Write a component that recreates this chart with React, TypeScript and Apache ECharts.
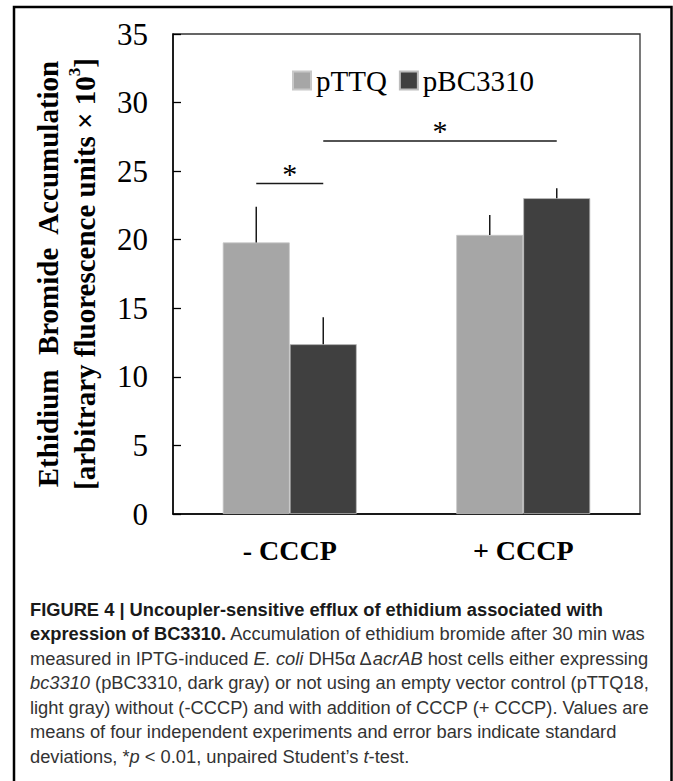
import React, { useEffect, useRef } from 'react';
import * as echarts from 'echarts';

// ---------- data ----------
const categories = ['- CCCP', '+ CCCP'];
const seriesNames = ['pTTQ', 'pBC3310'];
const pTTQMeans = [19.8, 20.35];
const pTTQSD = [2.6, 1.45];
const pBC3310Means = [12.38, 23.03];
const pBC3310SD = [1.97, 0.72];
const yMin = 0;
const yMax = 35;
const yInterval = 5;
// significance brackets: [fromCategory, fromSeries, toCategory, toSeries, yValue]
const sigBrackets = [
  [0, 0, 0, 1, 24.1],
  [0, 1, 1, 1, 27.2],
];
const sigLabel = '*';

const captionLines: [string, string][][] = [
  [['b', 'FIGURE 4 | Uncoupler-sensitive efflux of ethidium associated with']],
  [['b', 'expression of BC3310.'], ['n', ' Accumulation of ethidium bromide after 30 min was']],
  [['n', 'measured in IPTG-induced '], ['i', 'E. coli'], ['n', ' DH5α Δ'], ['i', 'acrAB'], ['n', ' host cells either expressing']],
  [['i', 'bc3310'], ['n', ' (pBC3310, dark gray) or not using an empty vector control (pTTQ18,']],
  [['n', 'light gray) without (-CCCP) and with addition of CCCP (+ CCCP). Values are']],
  [['n', 'means of four independent experiments and error bars indicate standard']],
  [['n', 'deviations, *'], ['i', 'p'], ['n', ' < 0.01, unpaired Student\u2019s '], ['i', 't'], ['n', '-test.']],
];

// ---------- styles ----------
const SERIF = '"Liberation Serif", "Times New Roman", Times, serif';
const SANS = '"Liberation Sans", Arial, Helvetica, sans-serif';
const BAR_W = 67;
const COLORS = ['#a6a6a6', '#404040'];
const CAP_FS = 18.3;

export default function App() {
  const ref = useRef<HTMLDivElement>(null);

  useEffect(() => {
    if (!ref.current) return;
    const chart = echarts.init(ref.current, undefined, { renderer: 'svg' });
    const offset = (s: number) => (s === 0 ? -BAR_W / 2 : BAR_W / 2);

    const means = [pTTQMeans, pBC3310Means];
    const sds = [pTTQSD, pBC3310SD];
    const errData: number[][] = [];
    for (let s = 0; s < 2; s++) {
      for (let c = 0; c < categories.length; c++) {
        errData.push([c, means[s][c], means[s][c] + sds[s][c], s]);
      }
    }

    const captionText = captionLines
      .map((l) => l.map(([s, t]) => `{${s}|${t}}`).join(''))
      .join('\n');

    const capBase = { fontFamily: SANS, fontSize: CAP_FS, lineHeight: 24.5 };

    chart.setOption({
      animation: false,
      grid: { left: 173, right: 33, top: 34, bottom: 267, show: true, borderColor: '#333', borderWidth: 1.3, containLabel: false },
      legend: {
        data: seriesNames,
        left: 287,
        top: 61,
        icon: 'rect',
        itemWidth: 18,
        itemHeight: 18,
        itemGap: 12,
        textStyle: { fontFamily: SERIF, fontSize: 29, color: '#000' },
      },
      xAxis: {
        type: 'category',
        data: categories,
        axisTick: { show: false },
        axisLine: { lineStyle: { color: '#000', width: 1.5 } },
        axisLabel: { fontFamily: SERIF, fontWeight: 'bold', fontSize: 28, color: '#000', margin: 22 },
      },
      yAxis: {
        type: 'value',
        min: yMin,
        max: yMax,
        interval: yInterval,
        splitLine: { show: false },
        axisLine: { show: true, lineStyle: { color: '#000', width: 1.5 } },
        axisTick: { show: true, inside: true, length: 8, lineStyle: { color: '#000', width: 1.3 } },
        axisLabel: { fontFamily: SERIF, fontSize: 31, color: '#000', margin: 25 },
        name: 'Ethidium  Bromide  Accumulation\n[arbitrary fluorescence units × 10{sup|3}]',
        nameLocation: 'middle',
        nameRotate: 90,
        nameGap: 70,
        nameTextStyle: {
          fontFamily: SERIF,
          fontWeight: 'bold',
          fontSize: 29,
          lineHeight: 37,
          color: '#000',
          rich: {
            sup: { fontFamily: SERIF, fontWeight: 'bold', fontSize: 17, color: '#000', verticalAlign: 'top', lineHeight: 30 },
          },
        },
      },
      series: [
        {
          name: seriesNames[0],
          type: 'bar',
          data: pTTQMeans,
          barWidth: BAR_W,
          barGap: '0%',
          itemStyle: { color: COLORS[0], borderColor: '#c8c8c8', borderWidth: 0.8 },
          z: 2,
        },
        {
          name: seriesNames[1],
          type: 'bar',
          data: pBC3310Means,
          barWidth: BAR_W,
          barGap: '0%',
          itemStyle: { color: COLORS[1], borderColor: '#bdbdbd', borderWidth: 0.8 },
          z: 2,
        },
        {
          type: 'custom',
          name: 'err',
          data: errData,
          encode: { x: 0, y: [1, 2] },
          clip: false,
          z: 3,
          silent: true,
          renderItem: (params: any, api: any) => {
            const c = api.value(0);
            const s = api.value(3);
            const p1 = api.coord([c, api.value(1)]);
            const p2 = api.coord([c, api.value(2)]);
            const x = p1[0] + offset(s);
            return {
              type: 'line',
              shape: { x1: x, y1: p1[1], x2: x, y2: p2[1] },
              style: { stroke: '#1a1a1a', lineWidth: 1.5 },
            };
          },
        },
        {
          type: 'custom',
          name: 'sig',
          data: sigBrackets,
          encode: { x: 0, y: 4 },
          clip: false,
          z: 3,
          silent: true,
          renderItem: (params: any, api: any) => {
            const p1 = api.coord([api.value(0), api.value(4)]);
            const p2 = api.coord([api.value(2), api.value(4)]);
            const x1 = p1[0] + offset(api.value(1));
            const x2 = p2[0] + offset(api.value(3));
            return {
              type: 'group',
              children: [
                {
                  type: 'line',
                  shape: { x1, y1: p1[1], x2, y2: p2[1] },
                  style: { stroke: '#1a1a1a', lineWidth: 1.5 },
                },
                {
                  type: 'text',
                  x: (x1 + x2) / 2,
                  y: p1[1] - 10,
                  style: { text: sigLabel, fontFamily: SERIF, fontSize: 30, fill: '#000', align: 'center', verticalAlign: 'middle' },
                },
              ],
            };
          },
        },
      ],
      graphic: [
        {
          type: 'rect',
          shape: { x: 14, y: 7, width: 657.5, height: 800 },
          style: { fill: 'none', stroke: '#000', lineWidth: 2.5 },
          silent: true,
        },
        {
          type: 'text',
          left: 30,
          top: 597,
          style: {
            text: captionText,
            fontFamily: SANS,
            fontSize: CAP_FS,
            lineHeight: 24.5,
            fill: '#333',
            rich: {
              b: { ...capBase, fontWeight: 'bold', fill: '#1a1a1a' },
              n: { ...capBase, fill: '#333' },
              i: { ...capBase, fontStyle: 'italic', fill: '#333' },
            },
          },
        },
      ],
    });
    return () => chart.dispose();
  }, []);

  return (
    <div
      ref={ref}
      style={{ position: 'fixed', left: 0, top: 0, width: 673, height: 781, background: '#fff' }}
    />
  );
}
